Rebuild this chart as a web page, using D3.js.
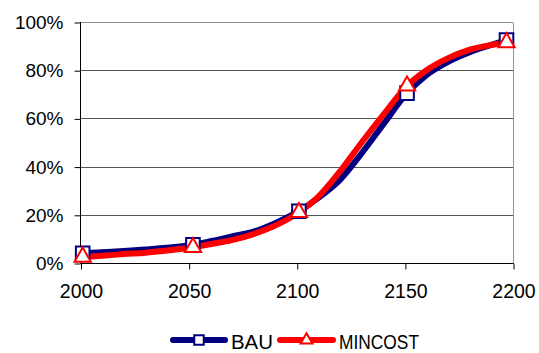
<!DOCTYPE html>
<html><head><meta charset="utf-8">
<script src="https://cdn.jsdelivr.net/npm/d3@7"></script>
<style>body{margin:0;background:#fff}svg{display:block}text{font-family:"Liberation Sans",Arial,sans-serif;fill:#000}</style>
</head><body><svg id="c" width="539" height="353"></svg>
<script>
const years = [2001,2010,2020,2030,2040,2052,2060,2070,2080,2090,2101,2110,2120,2130,2140,2151,2160,2170,2180,2190,2197];
const bau =     [4.0,4.5,5.0,5.6,6.3,7.6,9.0,11.0,13.0,16.5,21.5,27.0,34.5,45.5,57.5,70.5,78.0,83.5,87.5,90.5,92.5];
const mincost = [2.5,3.0,3.7,4.3,5.2,6.5,7.8,9.5,12.0,15.5,21.0,27.5,38.0,50.0,61.5,73.5,80.0,85.0,88.5,90.5,91.5];
const markerYears = [2001,2052,2101,2151,2197];
const xTicks = [2000,2050,2100,2150,2200];
const yTicks = [0,20,40,60,80,100];
const seriesNames = ["BAU","MINCOST"];

const svg = d3.select("#c");
const x = d3.scaleLinear().domain([2000,2200]).range([80.5,513]);
const y = d3.scaleLinear().domain([0,100]).range([263,22]);

// gridlines
svg.append("g").selectAll("line").data(yTicks.filter(d=>d>0)).join("line")
  .attr("x1",80.5).attr("x2",513).attr("y1",d=>Math.round(y(d))+0.5).attr("y2",d=>Math.round(y(d))+0.5)
  .attr("stroke",d=>d===100?"#909090":"#555").attr("stroke-width",1);
svg.append("line").attr("x1",513.5).attr("x2",513.5).attr("y1",Math.round(y(100))+0.5).attr("y2",263.5).attr("stroke","#909090");

// axes
const yAxis = d3.axisLeft(y).tickValues(yTicks).tickSize(6).tickPadding(11).tickFormat(d=>d+"%");
const gy = svg.append("g").attr("transform","translate(80.5,0.5)").call(yAxis);
const xAxis = d3.axisBottom(x).tickValues(xTicks).tickSize(6).tickPadding(15).tickFormat(d3.format("d"));
const gx = svg.append("g").attr("transform","translate(0.5,263.5)").call(xAxis);
[gx,gy].forEach(g=>{
  g.selectAll("path.domain").attr("stroke","#000");
  g.selectAll(".tick line").attr("stroke","#000");
  g.selectAll("text").attr("font-family","Liberation Sans, Arial, sans-serif").attr("fill","#000");
});
gy.selectAll("text").attr("font-size",19);
gx.selectAll("text").attr("font-size",19.5);
gy.selectAll("path.domain").attr("d","M0,"+(y(100)-0.5)+"V"+(263));
gx.selectAll("path.domain").attr("d","M80,0H513");

const line = d3.line().x(d=>x(d[0])).y(d=>y(d[1])).curve(d3.curveMonotoneX);
const bauData = years.map((yr,i)=>[yr,bau[i]]);
const minData = years.map((yr,i)=>[yr,mincost[i]]);
svg.append("path").datum(bauData).attr("d",line).attr("fill","none").attr("stroke","#000080").attr("stroke-width",6).attr("stroke-linejoin","round");
svg.append("path").datum(minData).attr("d",line).attr("fill","none").attr("stroke","#ff0000").attr("stroke-width",6).attr("stroke-linejoin","round");

const sq = d3.symbol().type(d3.symbolSquare).size(185);
const tri = d3.symbol().type(d3.symbolTriangle).size(115);
const bauM = bauData.filter(d=>markerYears.includes(d[0]));
const minM = minData.filter(d=>markerYears.includes(d[0]));
svg.append("g").selectAll("path").data(bauM).join("path").attr("d",sq)
  .attr("transform",d=>`translate(${x(d[0])},${y(d[1])})`).attr("fill","#fff").attr("stroke","#000080").attr("stroke-width",2);
svg.append("g").selectAll("path").data(minM).join("path").attr("d",tri)
  .attr("transform",d=>`translate(${x(d[0])},${y(d[1])})`).attr("fill","#fff").attr("stroke","#ff0000").attr("stroke-width",2);

// legend
const lg = svg.append("g");
const items = [{name:seriesNames[0],c:"#000080",s:d3.symbol().type(d3.symbolSquare).size(90),x0:173,x1:225,tx:231,w:42},
               {name:seriesNames[1],c:"#ff0000",s:d3.symbol().type(d3.symbolTriangle).size(60),x0:280,x1:333,tx:339,w:80}];
items.forEach(it=>{
  lg.append("line").attr("x1",it.x0).attr("x2",it.x1).attr("y1",340).attr("y2",340).attr("stroke",it.c).attr("stroke-width",6).attr("stroke-linecap","round");
  lg.append("path").attr("d",it.s).attr("transform",`translate(${(it.x0+it.x1)/2},340)`).attr("fill","#fff").attr("stroke",it.c).attr("stroke-width",2);
  lg.append("text").attr("x",it.tx).attr("y",349).attr("font-size",19.5)
    .attr("textLength",it.w).attr("lengthAdjust","spacingAndGlyphs").text(it.name);
});
</script></body></html>
